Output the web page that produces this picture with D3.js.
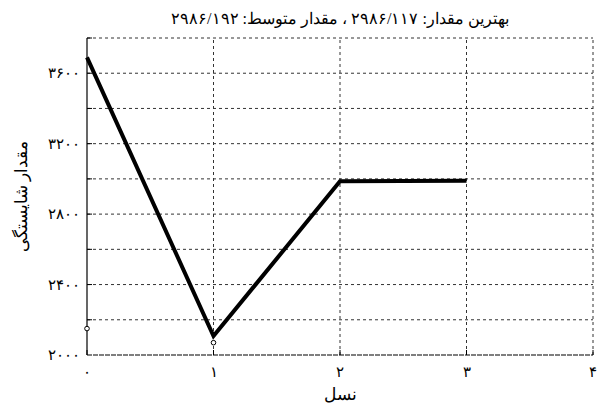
<!DOCTYPE html>
<html><head><meta charset="utf-8">
<script src="https://cdn.jsdelivr.net/npm/d3@7"></script>
<style>body{margin:0;background:#fff}</style>
</head><body>
<script>
const generations = [0, 1, 2, 3];
const bestValues = [3690, 2108, 2986, 2990];
const markerGens = [0, 1];
const markerValues = [2150, 2070];
const xTicks = [0, 1, 2, 3, 4];
const yLabelTicks = [2000, 2400, 2800, 3200, 3600];
const yGridTicks = [2200, 2400, 2600, 2800, 3000, 3200, 3400, 3600, 3800];
const titleText = "بهترین مقدار: ۲۹۸۶/۱۱۷ ، مقدار متوسط: ۲۹۸۶/۱۹۲";
const xLabel = "نسل";
const yLabel = "مقدار شایستگی";

const fa = n => String(n).replace(/\d/g, d => "۰۱۲۳۴۵۶۷۸۹"[d]);
const W = 599, H = 407;
const m = {l: 87, r: 6, t: 38, b: 52};
const svg = d3.select("body").append("svg").attr("width", W).attr("height", H);
const font = "'Times New Roman', 'Liberation Serif', 'DejaVu Serif', serif";
const x = d3.scaleLinear().domain([0, 4]).range([m.l, W - m.r]);
const y = d3.scaleLinear().domain([2000, 3800]).range([H - m.b, m.t]);

const g = svg.append("g");
// grid
g.selectAll(".hg").data(yGridTicks).join("line")
  .attr("x1", x(0)).attr("x2", x(4)).attr("y1", d => y(d)).attr("y2", d => y(d))
  .attr("stroke", "#333").attr("stroke-width", 1).attr("stroke-dasharray", "3,3");
g.selectAll(".vg").data(xTicks.slice(1)).join("line")
  .attr("x1", d => x(d)).attr("x2", d => x(d)).attr("y1", y(2000)).attr("y2", y(3800))
  .attr("stroke", "#333").attr("stroke-width", 1).attr("stroke-dasharray", "3,3");
// bottom axis
g.append("line").attr("x1", x(0)).attr("x2", x(4)).attr("y1", y(2000)).attr("y2", y(2000))
  .attr("stroke", "#000").attr("stroke-width", 1.2).attr("stroke-dasharray", "5,1");
// left axis
g.append("line").attr("x1", x(0)).attr("x2", x(0)).attr("y1", y(2000)).attr("y2", y(3800))
  .attr("stroke", "#000").attr("stroke-width", 1.2);
g.selectAll(".yt").data(yGridTicks).join("line")
  .attr("x1", x(0)).attr("x2", x(0) + 5).attr("y1", d => y(d)).attr("y2", d => y(d))
  .attr("stroke", "#000");
g.selectAll(".xt").data(xTicks).join("line")
  .attr("x1", d => x(d)).attr("x2", d => x(d)).attr("y1", y(2000)).attr("y2", y(2000) - 5)
  .attr("stroke", "#000");

// tick labels
svg.selectAll(".yl").data(yLabelTicks).join("text")
  .attr("x", x(0) - 7).attr("y", d => y(d)).attr("dy", "0.35em")
  .attr("text-anchor", "end").attr("font-family", font).attr("font-size", 15)
  .text(d => fa(d));
svg.selectAll(".xl").data(xTicks).join("text")
  .attr("x", d => x(d)).attr("y", y(2000) + 17).attr("dy", "0.35em")
  .attr("text-anchor", "middle").attr("font-family", font).attr("font-size", 15)
  .text(d => fa(d));

// line
const line = d3.line().x((d, i) => x(generations[i])).y(d => y(d));
svg.append("path").datum(bestValues).attr("d", line)
  .attr("fill", "none").attr("stroke", "#000").attr("stroke-width", 4)
  .attr("stroke-linejoin", "miter");
svg.selectAll(".mk").data(markerValues).join("circle")
  .attr("cx", (d, i) => x(markerGens[i])).attr("cy", d => y(d)).attr("r", 2.3)
  .attr("fill", "#fff").attr("stroke", "#000").attr("stroke-width", 1);

// title & labels
svg.append("text").attr("x", (x(0) + x(4)) / 2).attr("y", 24)
  .attr("text-anchor", "middle").attr("direction", "rtl").attr("font-family", font)
  .attr("font-size", 16).text(titleText);
svg.append("text").attr("x", (x(0) + x(4)) / 2).attr("y", 400)
  .attr("text-anchor", "middle").attr("direction", "rtl").attr("font-family", font)
  .attr("font-size", 17).text(xLabel);
svg.append("text").attr("transform", `translate(27,${(y(2000) + y(3800)) / 2}) rotate(-90)`)
  .attr("text-anchor", "middle").attr("direction", "rtl").attr("font-family", font)
  .attr("font-size", 17).text(yLabel);
</script>
</body></html>
